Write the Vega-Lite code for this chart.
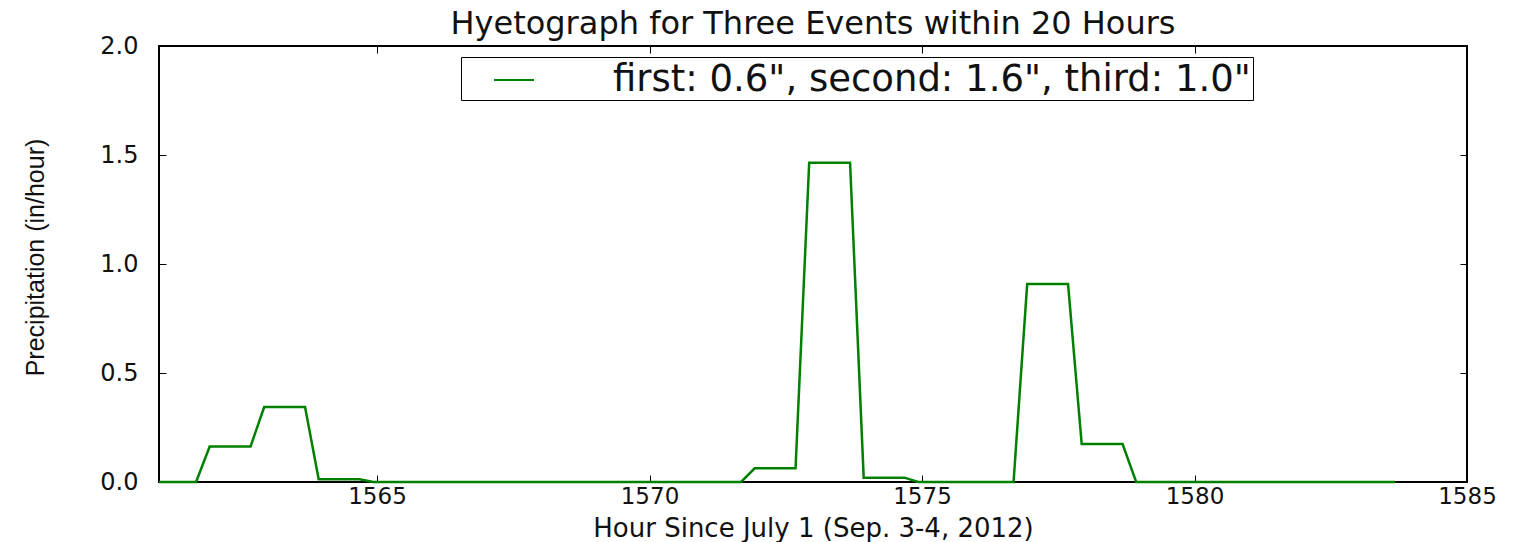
{
  "$schema": "https://vega.github.io/schema/vega-lite/v6.json",
  "autosize": {"type": "none"},
  "width": 1308,
  "height": 436,
  "padding": {"left": 159, "top": 46, "right": 46, "bottom": 60},
  "background": "white",
  "title": {
    "text": "Hyetograph for Three Events within 20 Hours",
    "font": "DejaVu Sans",
    "fontSize": 32,
    "fontWeight": "normal",
    "color": "#111",
    "anchor": "middle",
    "offset": -7
  },
  "data": {
    "values": [
      {"hour": 1561.0, "precip": 0},
      {"hour": 1561.68, "precip": 0},
      {"hour": 1561.93, "precip": 0.163},
      {"hour": 1562.68, "precip": 0.163},
      {"hour": 1562.93, "precip": 0.344},
      {"hour": 1563.68, "precip": 0.344},
      {"hour": 1563.93, "precip": 0.013},
      {"hour": 1564.68, "precip": 0.013},
      {"hour": 1564.93, "precip": 0},
      {"hour": 1571.68, "precip": 0},
      {"hour": 1571.93, "precip": 0.063},
      {"hour": 1572.68, "precip": 0.063},
      {"hour": 1572.93, "precip": 1.465},
      {"hour": 1573.68, "precip": 1.465},
      {"hour": 1573.93, "precip": 0.02},
      {"hour": 1574.68, "precip": 0.02},
      {"hour": 1574.93, "precip": 0},
      {"hour": 1576.68, "precip": 0},
      {"hour": 1576.93, "precip": 0.908},
      {"hour": 1577.68, "precip": 0.908},
      {"hour": 1577.93, "precip": 0.174},
      {"hour": 1578.68, "precip": 0.174},
      {"hour": 1578.93, "precip": 0},
      {"hour": 1583.68, "precip": 0}
    ]
  },
  "layer": [
    {
      "mark": {"type": "line", "strokeWidth": 2.5, "interpolate": "linear"},
      "encoding": {
        "x": {
          "field": "hour",
          "type": "quantitative",
          "scale": {"domain": [1561, 1585], "nice": false, "zero": false},
          "axis": {
            "orient": "bottom",
            "values": [1565, 1570, 1575, 1580, 1585],
            "format": "d",
            "title": "Hour Since July 1 (Sep. 3-4, 2012)",
            "titleFontSize": 26,
            "titleX": 654,
            "titleY": 54,
            "titleBaseline": "alphabetic",
            "labelFontSize": 23,
            "labelFlush": false,
            "labelPadding": 10,
            "tickSize": -7
          }
        },
        "y": {
          "field": "precip",
          "type": "quantitative",
          "scale": {"domain": [0, 2], "nice": false},
          "axis": {
            "orient": "left",
            "values": [0, 0.5, 1, 1.5, 2],
            "format": ".1f",
            "title": "Precipitation (in/hour)",
            "titleFont": "Liberation Sans",
            "titleFontSize": 25,
            "titleAngle": -90,
            "titleAlign": "center",
            "titleBaseline": "alphabetic",
            "titleX": -116,
            "titleY": 211,
            "labelFontSize": 24,
            "labelPadding": 28,
            "tickSize": -7
          }
        },
        "color": {
          "datum": "first: 0.6\", second: 1.6\", third: 1.0\"",
          "type": "nominal",
          "scale": {"range": ["#008000"]},
          "legend": {
            "orient": "none",
            "legendX": 302,
            "legendY": 11,
            "title": null,
            "symbolType": "stroke",
            "symbolSize": 1600,
            "symbolStrokeWidth": 2,
            "symbolOffset": 30,
            "labelFontSize": 37,
            "labelFont": "DejaVu Sans",
            "labelColor": "#111",
            "labelLimit": 0,
            "labelOffset": 78,
            "strokeColor": "black",
            "fillColor": "white",
            "padding": 2
          }
        }
      }
    },
    {
      "mark": {"type": "line", "opacity": 0},
      "encoding": {
        "x": {
          "field": "hour",
          "type": "quantitative",
          "axis": {
            "orient": "top",
            "values": [1565, 1570, 1575, 1580, 1585],
            "labels": false,
            "title": null,
            "tickSize": -7
          }
        },
        "y": {
          "field": "precip",
          "type": "quantitative",
          "axis": {
            "orient": "right",
            "values": [0, 0.5, 1, 1.5, 2],
            "labels": false,
            "title": null,
            "tickSize": -7
          }
        }
      }
    }
  ],
  "resolve": {"axis": {"x": "independent", "y": "independent"}},
  "config": {
    "view": {"stroke": "black", "strokeWidth": 2},
    "axis": {
      "grid": false,
      "domain": false,
      "tickColor": "black",
      "tickWidth": 1,
      "labelFont": "DejaVu Sans",
      "labelColor": "#111",
      "titleFont": "DejaVu Sans",
      "titleFontWeight": "normal",
      "titleColor": "#111"
    }
  }
}
